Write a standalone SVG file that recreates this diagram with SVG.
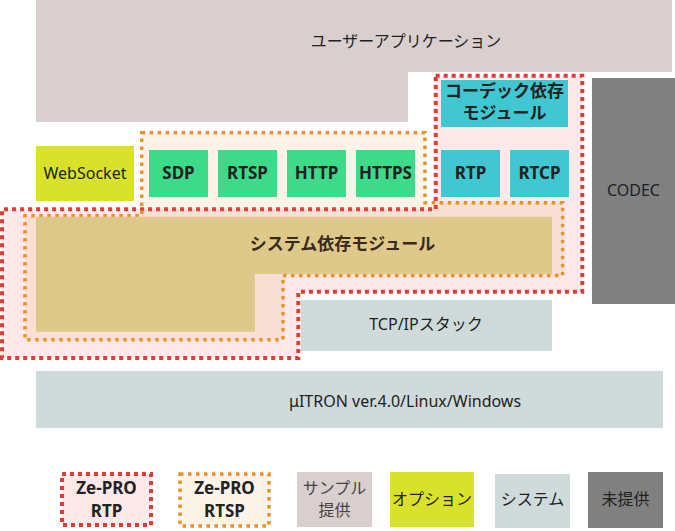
<svg xmlns="http://www.w3.org/2000/svg" width="675" height="531" viewBox="0 0 675 531">
<style>
text{font-family:"Noto Sans","Noto Sans CJK JP",sans-serif;fill:#222;text-anchor:middle}
.b{font-weight:bold;font-size:17px}
.n{font-size:16px}
.app{fill:#d9cfcf}
.opt{fill:#d8e22a}
.grn{fill:#3fd98a}
.teal{fill:#40c7d1}
.tan{fill:#dec98a}
.sys{fill:#cfdbdb}
.na{fill:#808080}
.red{fill:#fde9e9;stroke:#e53935;stroke-width:4;stroke-dasharray:4 4}
.org{fill:#e68c28;fill-opacity:0.1;stroke:#e8922a;stroke-width:3.5;stroke-dasharray:3.5 4.5}
</style>
<rect width="675" height="531" fill="#fff"/>
<g id="user-app">
<path class="app" d="M36 0H672V72H408V122H36Z"/>
<text class="n" x="406" y="47">ユーザーアプリケーション</text>
</g>
<g id="zepro-rtp-area">
<path class="red" d="M435.7 75.7H582.3V291.7H298.3V358H2V209.3H435.7Z"/>
</g>
<g id="zepro-rtsp-area">
<path class="org" d="M141.7 132.7H425V202.7H562.7V275.5H283V339.7H25V215.7H141.7Z"/>
</g>
<g id="websocket">
<rect class="opt" x="36" y="146" width="98" height="55"/>
<text class="n" x="85" y="179" font-size="16.5">WebSocket</text>
</g>
<g id="sdp"><rect class="grn" x="149" y="150" width="59" height="47"/><text class="b" x="178.5" y="179">SDP</text></g>
<g id="rtsp"><rect class="grn" x="218" y="150" width="59" height="47"/><text class="b" x="247.5" y="179">RTSP</text></g>
<g id="http"><rect class="grn" x="287" y="150" width="59" height="47"/><text class="b" x="316.5" y="179">HTTP</text></g>
<g id="https"><rect class="grn" x="356" y="150" width="59" height="47"/><text class="b" x="385.5" y="179">HTTPS</text></g>
<g id="codec-module">
<rect class="teal" x="441" y="80" width="127" height="47"/>
<text class="b" x="504.5" y="97" font-size="16">コーデック依存</text>
<text class="b" x="504.5" y="119" font-size="16">モジュール</text>
</g>
<g id="rtp"><rect class="teal" x="441" y="150" width="59" height="47"/><text class="b" x="470.5" y="179">RTP</text></g>
<g id="rtcp"><rect class="teal" x="510" y="150" width="59" height="47"/><text class="b" x="539.5" y="179">RTCP</text></g>
<g id="codec">
<rect class="na" x="592" y="78" width="83" height="226"/>
<text class="n" x="633.5" y="196" font-size="17">CODEC</text>
</g>
<g id="system-module">
<path class="tan" d="M36 216.7H552V274H255V331.7H36Z"/>
<text class="b" x="342.5" y="250" font-size="16" style="fill:#3a2a1a">システム依存モジュール</text>
</g>
<g id="tcpip">
<rect class="sys" x="301" y="300" width="251" height="51"/>
<text class="n" x="426" y="330">TCP/IPスタック</text>
</g>
<g id="os">
<rect class="sys" x="36" y="371" width="627" height="57"/>
<text class="n" x="405" y="407">μITRON ver.4.0/Linux/Windows</text>
</g>
<g id="connectors"></g>
<g id="legend">
<g id="legend-rtp">
<rect class="red" x="62" y="474" width="89" height="51"/>
<text class="b" x="106.5" y="494">Ze-PRO</text>
<text class="b" x="106.5" y="517">RTP</text>
</g>
<g id="legend-rtsp">
<rect class="org" x="180" y="474" width="89" height="52"/>
<text class="b" x="224.5" y="494">Ze-PRO</text>
<text class="b" x="224.5" y="517">RTSP</text>
</g>
<g id="legend-sample">
<rect class="app" x="297" y="472" width="75" height="55"/>
<text class="n" x="334.5" y="494" style="fill:#444">サンプル</text>
<text class="n" x="334.5" y="516" style="fill:#444">提供</text>
</g>
<g id="legend-option">
<rect class="opt" x="390" y="472" width="84" height="55"/>
<text class="n" x="432" y="505">オプション</text>
</g>
<g id="legend-system">
<rect class="sys" x="495" y="474" width="75" height="54"/>
<text class="n" x="532.5" y="505">システム</text>
</g>
<g id="legend-none">
<rect class="na" x="588" y="472" width="75" height="56"/>
<text class="n" x="625.5" y="505">未提供</text>
</g>
</g>
</svg>
